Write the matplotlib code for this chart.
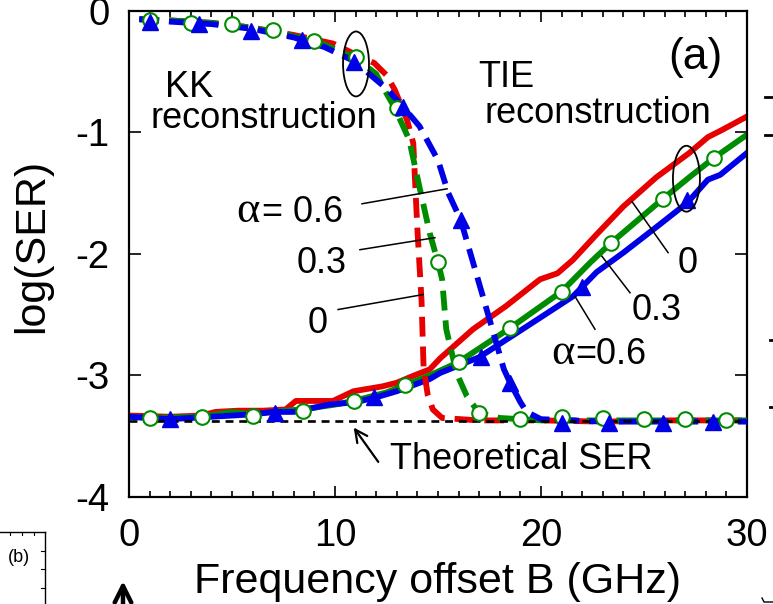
import matplotlib
matplotlib.use("Agg")
import matplotlib.pyplot as plt
from matplotlib.patches import Ellipse, FancyArrowPatch
from matplotlib.lines import Line2D
from matplotlib.ticker import MultipleLocator

plt.rcParams['font.family'] = ['Liberation Sans', 'DejaVu Sans']
plt.rcParams['axes.unicode_minus'] = False

RED = '#e60000'
GREEN = '#008c00'
BLUE = '#0000e6'

# KK reconstruction (dashed), alpha = 0, 0.3, 0.6
kk_x_0 = [0.5, 2, 4, 6, 8, 9.9, 11.0, 11.9, 12.5, 12.9, 13.5, 13.8, 14.0, 14.2, 14.3, 14.5, 14.75, 15.2, 17, 20, 23, 26, 30]
kk_y_0 = [-0.07, -0.08, -0.10, -0.14, -0.20, -0.27, -0.36, -0.43, -0.53, -0.65, -0.90, -1.09, -1.80, -2.38, -2.93, -3.16, -3.28, -3.35, -3.37, -3.37, -3.38, -3.37, -3.37]

kk_x_3 = [0.5, 2, 4, 6, 8, 9.5, 11.0, 12.0, 12.4, 12.9, 13.6, 14.1, 14.6, 15.0, 15.2, 15.4, 15.9, 16.4, 17.0, 18, 20, 23, 26, 30]
kk_y_3 = [-0.07, -0.08, -0.10, -0.14, -0.21, -0.28, -0.39, -0.52, -0.65, -0.80, -1.06, -1.45, -1.83, -2.07, -2.21, -2.62, -2.98, -3.17, -3.31, -3.35, -3.37, -3.37, -3.37, -3.37]

kk_x_6 = [0.5, 2, 4, 6, 8, 9.5, 11.0, 11.8, 12.5, 13.3, 14.1, 15.0, 15.5, 16.1, 16.7, 17.4, 18.2, 18.5, 19.0, 19.3, 20.0, 23, 26, 30]
kk_y_6 = [-0.07, -0.09, -0.11, -0.15, -0.22, -0.30, -0.42, -0.54, -0.64, -0.79, -0.95, -1.23, -1.50, -1.72, -2.07, -2.48, -2.95, -3.06, -3.22, -3.30, -3.36, -3.38, -3.38, -3.38]

kk_circ_x = [1, 3, 5, 7, 9, 11, 13, 15, 17, 19, 21, 23, 25, 27, 29]
kk_circ_y = [-0.08, -0.10, -0.11, -0.16, -0.25, -0.38, -0.80, -2.07, -3.31, -3.36, -3.34, -3.35, -3.36, -3.36, -3.37]
kk_tri_x = [1, 3.4, 5.9, 8.4, 10.9, 13.3, 16.1, 18.5, 21.0, 23.3, 25.9, 28.35]
kk_tri_y = [-0.09, -0.11, -0.17, -0.24, -0.42, -0.79, -1.72, -3.06, -3.39, -3.39, -3.39, -3.38]

# TIE reconstruction (solid)
tie_x_0 = [0, 2, 3.5, 4.2, 5.3, 6.5, 7.6, 8.1, 9.9, 10.9, 12.3, 13.0, 13.7, 14.6, 15.1, 16.7, 18.3, 19.95, 20.8, 21.55, 22.7, 24.0, 25.6, 27.2, 28.1, 28.8, 30]
tie_y_0 = [-3.33, -3.34, -3.33, -3.30, -3.29, -3.29, -3.28, -3.21, -3.21, -3.13, -3.09, -3.06, -3.01, -2.95, -2.86, -2.62, -2.43, -2.21, -2.16, -2.05, -1.84, -1.61, -1.37, -1.17, -1.04, -0.98, -0.87]

tie_x_3 = [0, 1, 3.5, 5, 6, 7.5, 8.4, 10, 10.9, 12.5, 13.4, 14.6, 16.0, 18.5, 21.0, 22.4, 23.4, 25.9, 27.2, 28.4, 30]
tie_y_3 = [-3.34, -3.35, -3.34, -3.30, -3.32, -3.29, -3.28, -3.24, -3.21, -3.14, -3.08, -3.00, -2.89, -2.61, -2.31, -2.07, -1.91, -1.55, -1.37, -1.21, -1.02]

tie_x_6 = [0, 2, 4, 6, 7, 8, 9.7, 11, 12, 13, 14.6, 15.1, 17.0, 19.1, 21.55, 22.7, 24.0, 25.6, 27.1, 28.1, 28.7, 30]
tie_y_6 = [-3.34, -3.36, -3.34, -3.32, -3.30, -3.30, -3.24, -3.22, -3.18, -3.13, -3.03, -2.98, -2.85, -2.62, -2.35, -2.15, -1.99, -1.78, -1.58, -1.39, -1.35, -1.17]

tie_circ_x = [1, 3.55, 6.0, 8.45, 10.9, 13.4, 16.0, 18.5, 21.0, 23.4, 25.9, 28.4]
tie_circ_y = [-3.35, -3.34, -3.33, -3.29, -3.21, -3.08, -2.89, -2.61, -2.31, -1.91, -1.55, -1.21]
tie_tri_x = [2.0, 7.1, 11.9, 17.1, 22.0, 27.1]
tie_tri_y = [-3.36, -3.31, -3.18, -2.85, -2.27, -1.56]

ser_theory = -3.375
x_range = [0, 30]

W, H = 773, 604
fig = plt.figure(figsize=(W / 100, H / 100), dpi=100)
ax = fig.add_axes([129 / W, 1 - 497 / H, (747 - 129) / W, (497 - 10.7) / H])

lw = 4.2
dash = (0, (3.4, 1.7))

# solid TIE curves
ax.plot(tie_x_0, tie_y_0, color=RED, lw=lw, zorder=2)
ax.plot(tie_x_3, tie_y_3, color=GREEN, lw=lw, zorder=2.1)
ax.plot(tie_x_6, tie_y_6, color=BLUE, lw=lw, zorder=2.2)

# dashed KK curves
ax.plot(kk_x_0, kk_y_0, color=RED, lw=lw, ls=dash, zorder=3)
ax.plot(kk_x_3, kk_y_3, color=GREEN, lw=lw, ls=dash, zorder=3.1)
ax.plot(kk_x_6, kk_y_6, color=BLUE, lw=lw, ls=dash, zorder=3.2)

# theoretical floor
ax.plot(x_range, [ser_theory, ser_theory], color='black', lw=1.9, ls=(0, (3.0, 2.2)), zorder=4)

circ = dict(ls='none', marker='o', ms=10.5, mfc='white', mec=GREEN, mew=1.5, zorder=5)
tri = dict(ls='none', marker='^', ms=11, color=BLUE, zorder=5.1)
ax.plot(tie_circ_x, tie_circ_y, **circ)
ax.plot(kk_circ_x, kk_circ_y, **circ)
ax.plot(tie_tri_x, tie_tri_y, **tri)
ax.plot(kk_tri_x, kk_tri_y, **tri)

ax.set_xlim(0, 30)
ax.set_ylim(-4, 0)
ax.xaxis.set_major_locator(MultipleLocator(10))
ax.xaxis.set_minor_locator(MultipleLocator(1))
ax.yaxis.set_major_locator(MultipleLocator(1))
ax.tick_params(axis='both', which='both', direction='in', top=True, right=True,
               labelsize=27.5, width=1.2)
ax.tick_params(axis='x', which='major', length=8, pad=15)
ax.tick_params(axis='x', which='minor', length=4)
ax.tick_params(axis='y', which='major', length=8.5, pad=14)
for s in ax.spines.values():
    s.set_linewidth(1.6)

fig.text(43 / W, 1 - 246 / H, 'log(SER)', fontsize=31, rotation=90,
         rotation_mode='anchor', ha='center', va='baseline')
fig.text(438 / W, 1 - 593 / H, 'Frequency offset B (GHz)', fontsize=31,
         ha='center', va='baseline')

fs = 26
ax.text(1.75, -0.71, 'KK', fontsize=fs, va='baseline')
ax.text(1.02, -0.963, 'reconstruction', fontsize=fs, va='baseline')
ax.text(16.94, -0.627, 'TIE', fontsize=fs, va='baseline')
ax.text(17.28, -0.922, 'reconstruction', fontsize=fs, va='baseline')
ax.text(26.17, -0.48, '(a)', fontsize=32, va='baseline')
ax.text(12.67, -3.77, 'Theoretical SER', fontsize=fs, va='baseline')
ax.annotate('', xy=(10.83, -3.41), xytext=(12.18, -3.73),
            arrowprops=dict(arrowstyle='->', lw=1.6, color='black',
                            mutation_scale=22))

# KK labels with leader lines
serif = ['Liberation Serif', 'DejaVu Serif']
ax.text(6.35, -1.735, 'α', fontsize=32, family=serif, ha='right', va='baseline')
ax.text(6.46, -1.735, '= 0.6', fontsize=fs, ha='left', va='baseline')
ax.text(10.58, -2.154, '0.3', fontsize=fs, ha='right', va='baseline')
ax.text(9.66, -2.647, '0', fontsize=fs, ha='right', va='baseline')
ax.plot([11.31, 15.44], [-1.588, -1.465], color='black', lw=1.1, zorder=6)
ax.plot([11.21, 14.85], [-1.966, -1.867], color='black', lw=1.1, zorder=6)
ax.plot([10.15, 14.27], [-2.458, -2.335], color='black', lw=1.1, zorder=6)

# TIE labels with leader lines
ax.text(26.65, -2.154, '0', fontsize=fs, va='baseline')
ax.text(24.42, -2.54, '0.3', fontsize=fs, va='baseline')
ax.text(21.62, -2.91, 'α', fontsize=32, family=serif, ha='right', va='baseline')
ax.text(21.65, -2.91, '=0.6', fontsize=fs, va='baseline')
ax.plot([24.42, 26.17], [-1.571, -1.99], color='black', lw=1.1, zorder=6)
ax.plot([22.96, 24.32], [-2.02, -2.32], color='black', lw=1.1, zorder=6)
ax.plot([21.65, 22.62], [-2.35, -2.62], color='black', lw=1.1, zorder=6)

ax.add_patch(Ellipse((11.02, -0.438), 1.26, 0.534, fill=False, lw=1.3, zorder=7))
ax.add_patch(Ellipse((27.06, -1.382), 1.31, 0.542, fill=False, lw=1.3, zorder=7))

# neighbouring panel edges
def px_line(xs, ys, **kw):
    fig.add_artist(Line2D([x / W for x in xs], [1 - y / H for y in ys],
                          color='black', **kw))

px_line([0, 45], [532, 532], lw=1.0)
px_line([45, 45], [532, 604], lw=1.0)
for yy in (551, 569, 588):
    px_line([41, 45], [yy, yy], lw=0.8)
for xx in (10, 22, 34):
    px_line([xx, xx], [532, 535], lw=0.8)
fig.text(8 / W, 1 - 562 / H, '(b)', fontsize=13, va='baseline')
fig.add_artist(FancyArrowPatch(
    (123 / W, -0.01), (123 / W, 1 - 581 / H), transform=fig.transFigure,
    arrowstyle='->', mutation_scale=30, lw=3.2, color='black',
    shrinkA=0, shrinkB=0))
px_line([765, 773], [97, 97], lw=2)
px_line([765, 773], [135, 135], lw=2)
px_line([770, 772], [340, 340], lw=2)
px_line([770, 772], [407, 407], lw=2)
px_line([762, 764, 773], [598, 602, 602], lw=1)

fig.savefig('out.png', dpi=100)
